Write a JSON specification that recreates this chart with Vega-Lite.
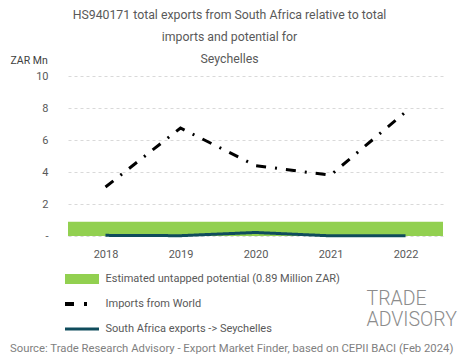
{
  "$schema": "https://vega.github.io/schema/vega-lite/v6.json",
  "width": 375,
  "height": 160,
  "autosize": "none",
  "padding": {"left": 68, "top": 76, "right": 22, "bottom": 123},
  "background": "white",
  "config": {
    "font": "Roboto",
    "view": {"stroke": null}
  },
  "title": {
    "text": ["HS940171 total exports from South Africa relative to total", "imports and potential for", "Seychelles"],
    "fontSize": 12.3,
    "fontWeight": "normal",
    "color": "#595959",
    "lineHeight": 22,
    "anchor": "middle",
    "frame": "group",
    "dx": -26,
    "offset": -10
  },
  "data": {
    "values": [
      {"series": "Estimated untapped potential (0.89 Million ZAR)", "year": "2018", "value": 0.89},
      {"series": "Imports from World", "year": "2018", "value": 3.06},
      {"series": "Imports from World", "year": "2019", "value": 6.75},
      {"series": "Imports from World", "year": "2020", "value": 4.4},
      {"series": "Imports from World", "year": "2021", "value": 3.8},
      {"series": "Imports from World", "year": "2022", "value": 7.75},
      {"series": "South Africa exports -> Seychelles", "year": "2018", "value": 0.04},
      {"series": "South Africa exports -> Seychelles", "year": "2019", "value": 0.02},
      {"series": "South Africa exports -> Seychelles", "year": "2020", "value": 0.22},
      {"series": "South Africa exports -> Seychelles", "year": "2021", "value": 0.01},
      {"series": "South Africa exports -> Seychelles", "year": "2022", "value": 0.01}
    ]
  },
  "encoding": {
    "y": {
      "field": "value",
      "type": "quantitative",
      "scale": {"domain": [0, 10], "nice": false},
      "axis": {
        "values": [0, 2, 4, 6, 8, 10],
        "labelExpr": "datum.value == 0 ? '-' : datum.label",
        "title": "ZAR Mn",
        "titleAngle": 0,
        "titleAlign": "left",
        "titleBaseline": "middle",
        "titleX": -58,
        "titleY": -16,
        "titleFontSize": 10.5,
        "titleFontWeight": "normal",
        "titleColor": "#404040",
        "labelFontSize": 11,
        "labelColor": "#595959",
        "labelPadding": 20,
        "ticks": false,
        "domain": false,
        "grid": true,
        "gridDash": [3, 3],
        "gridColor": "#d9d9d9"
      }
    },
    "color": {
      "field": "series",
      "type": "nominal",
      "scale": {
        "domain": ["Estimated untapped potential (0.89 Million ZAR)", "Imports from World", "South Africa exports -> Seychelles"],
        "range": ["#92D050", "#000000", "#0F4C5C"]
      },
      "legend": {
        "orient": "none",
        "legendX": -58,
        "legendY": 194.5,
        "direction": "vertical",
        "padding": 0,
        "title": "Source: Trade Research Advisory - Export Market Finder, based on CEPII BACI (Feb 2024)",
        "titleOrient": "bottom",
        "titleAnchor": "start",
        "titleFontSize": 11.3,
        "titleFontWeight": "normal",
        "titleColor": "#7f7f7f",
        "titleLimit": 600,
        "titlePadding": 5,
        "symbolType": "M-2,0H2",
        "symbolSize": 289,
        "symbolOffset": 66.5,
        "labelOffset": 18,
        "labelFontSize": 11,
        "labelColor": "#595959",
        "labelLimit": 400,
        "clipHeight": 17,
        "gridAlign": "all",
        "rowPadding": 8,
        "encode": {
          "symbols": {
            "update": {
              "fill": {"value": "transparent"},
              "stroke": {"signal": "datum.value == 'Estimated untapped potential (0.89 Million ZAR)' ? '#92D050' : datum.value == 'Imports from World' ? '#000000' : '#0F4C5C'"},
              "strokeWidth": {"signal": "datum.value == 'Estimated untapped potential (0.89 Million ZAR)' ? 10 : datum.value == 'Imports from World' ? 4 : 3"},
              "strokeDash": {"signal": "datum.value == 'Imports from World' ? [9, 10, 3, 30] : [1, 0]"},
              "opacity": {"value": 1}
            }
          }
        }
      }
    }
  },
  "layer": [
    {
      "transform": [{"filter": "datum.series == 'Estimated untapped potential (0.89 Million ZAR)'"}],
      "mark": {"type": "rect", "color": "#92D050"},
      "encoding": {
        "y2": {"datum": 0}
      }
    },
    {
      "transform": [{"filter": "datum.series != 'Estimated untapped potential (0.89 Million ZAR)'"}],
      "mark": {"type": "line", "strokeWidth": 3, "strokeCap": "butt"},
      "encoding": {
        "x": {
          "field": "year",
          "type": "ordinal",
          "scale": {"type": "point", "padding": 0.5},
          "axis": {
            "title": ["TRADE", "ADVISORY"],
            "titleFont": "Roboto",
            "titleFontSize": 19.5,
            "titleFontWeight": 300,
            "titleColor": "#8c8c8c",
            "titleAlign": "left",
            "titleAnchor": "start",
            "titleBaseline": "top",
            "titleX": 298,
            "titleY": 53,
            "titleLineHeight": 21,
            "labelAngle": 0,
            "labelFontSize": 11,
            "labelColor": "#595959",
            "labelPadding": 12,
            "ticks": false,
            "domain": false,
            "grid": false
          }
        },
        "strokeDash": {
          "field": "series",
          "type": "nominal",
          "scale": {
            "domain": ["Imports from World", "South Africa exports -> Seychelles"],
            "range": [[10, 9, 2, 9], [1, 0]]
          },
          "legend": null
        }
      }
    }
  ]
}
